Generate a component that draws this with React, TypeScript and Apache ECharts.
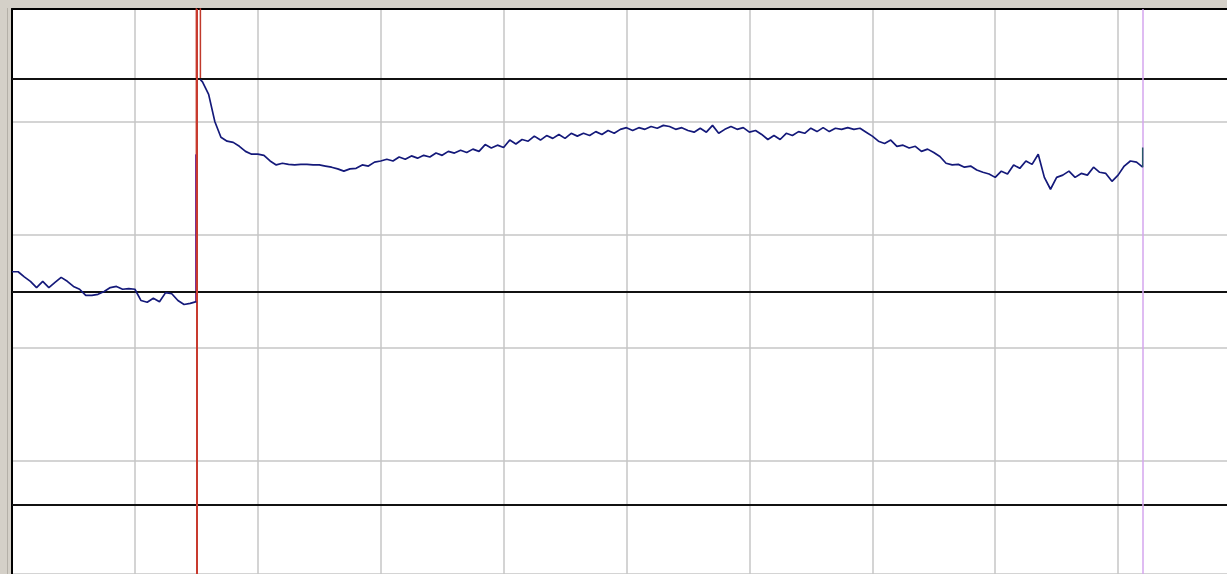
import React, { useEffect, useRef } from "react";
import * as echarts from "echarts";

// time axis: 10 s per division, samples every 0.5 s
const xStep = 0.5;
const preStart = 0;
const postStart = 15.5;
const triggerX = 15;
const spikeFallX = 15.33;
const cursorX = 92;

// levels in % of full scale
const refLevels = [12.3, 50, 87.7];

const preValues = [
  53.5, 53.5, 52.6, 51.8, 50.7, 51.8, 50.7, 51.6, 52.5, 51.8,
  50.9, 50.4, 49.3, 49.3, 49.5, 50.0, 50.7, 50.9, 50.4, 50.5,
  50.4, 48.4, 48.1, 48.8, 48.2, 49.8, 49.6, 48.4, 47.7, 47.9, 48.2,
];

const postValues = [
  87.1, 84.9, 80.1, 77.3, 76.6, 76.4, 75.7, 74.8, 74.3, 74.3,
  74.1, 73.1, 72.4, 72.7, 72.5, 72.4, 72.5, 72.5, 72.4, 72.4,
  72.2, 72.0, 71.7, 71.3, 71.7, 71.8, 72.4, 72.2, 72.9, 73.1,
  73.4, 73.1, 73.8, 73.4, 74.0, 73.6, 74.1, 73.8, 74.5, 74.1,
  74.8, 74.5, 75.0, 74.6, 75.2, 74.8, 76.0, 75.4, 75.9, 75.5,
  76.8, 76.1, 76.9, 76.6, 77.5, 76.8, 77.6, 77.1, 77.8, 77.1,
  78.0, 77.5, 78.0, 77.6, 78.3, 77.8, 78.5, 78.0, 78.7, 79.0,
  78.5, 79.0, 78.7, 79.2, 78.9, 79.4, 79.2, 78.7, 79.0, 78.5,
  78.2, 78.9, 78.2, 79.4, 78.0, 78.7, 79.2, 78.7, 79.0, 78.2,
  78.5, 77.8, 76.9, 77.6, 76.9, 78.0, 77.6, 78.3, 78.0, 78.9,
  78.3, 79.0, 78.3, 78.9, 78.7, 79.0, 78.7, 78.9, 78.2, 77.5,
  76.6, 76.2, 76.8, 75.7, 75.9, 75.4, 75.7, 74.8, 75.2, 74.6,
  73.9, 72.7, 72.4, 72.5, 72.0, 72.2, 71.5, 71.1, 70.8, 70.2,
  71.3, 70.8, 72.4, 71.8, 73.1, 72.5, 74.3, 70.2, 68.1, 70.2,
  70.6, 71.3, 70.2, 70.9, 70.6, 72.0, 71.1, 70.9, 69.5, 70.6,
  72.2, 73.1, 72.9, 72.0,
];

const jumpTop = 74.3;
const spikePeak = 110;
const spikeFloor = 87.5;
const endBump = 75.5;

export default function App() {
  const ref = useRef<HTMLDivElement>(null);
  useEffect(() => {
    if (!ref.current) return;
    const chart = echarts.init(ref.current, undefined, { renderer: "svg" });
    const pre = preValues.map((v, i) => [preStart + i * xStep, v]);
    const post = postValues.map((v, i) => [postStart + i * xStep, v]);
    const lastX = postStart + (postValues.length - 1) * xStep;
    const main = [[spikeFallX, spikeFloor], ...post];
    const lineBase = { type: "line", symbol: "none", animation: false, silent: true };
    chart.setOption({
      animation: false,
      backgroundColor: "#d4d0c8",
      grid: {
        left: 12,
        top: 9,
        width: 1229,
        height: 569,
        show: true,
        backgroundColor: "#ffffff",
        borderWidth: 0,
      },
      graphic: [
        {
          type: "line",
          shape: { x1: 7.5, y1: 8, x2: 7.5, y2: 574 },
          style: { stroke: "#b4b0a8", lineWidth: 1 },
          silent: true,
        },
      ],
      xAxis: {
        type: "value",
        min: 0,
        max: 100,
        interval: 10,
        position: "top",
        axisLine: { show: true, onZero: false, lineStyle: { color: "#000", width: 2 } },
        axisTick: { show: false },
        axisLabel: { show: false },
        splitLine: { show: true, lineStyle: { color: "#c6c6c6", width: 1.5 } },
      },
      yAxis: {
        type: "value",
        min: 0,
        max: 100,
        interval: 20,
        axisLine: { show: true, onZero: false, lineStyle: { color: "#000", width: 2 } },
        axisTick: { show: false },
        axisLabel: { show: false },
        splitLine: { show: true, lineStyle: { color: "#c6c6c6", width: 1.5 } },
      },
      series: [
        {
          ...lineBase,
          z: 1,
          data: [],
          markLine: {
            symbol: "none",
            silent: true,
            label: { show: false },
            animation: false,
            lineStyle: { color: "#111", width: 2, type: "solid" },
            data: refLevels.map((v) => ({ yAxis: v })),
          },
        },
        {
          ...lineBase,
          z: 2,
          data: [],
          markLine: {
            symbol: "none",
            silent: true,
            label: { show: false },
            animation: false,
            data: [
              { xAxis: triggerX, lineStyle: { color: "#c83a2e", width: 2, type: "solid" } },
              { xAxis: cursorX, lineStyle: { color: "#d4a6ee", width: 1.5, type: "solid" } },
            ],
          },
        },
        {
          ...lineBase,
          z: 3,
          data: [
            [triggerX, jumpTop],
            [triggerX, spikePeak],
            [spikeFallX, spikePeak],
            [spikeFallX, spikeFloor],
          ],
          lineStyle: { color: "#c0392b", width: 1.5 },
        },
        {
          ...lineBase,
          z: 4,
          data: [
            [triggerX, preValues[preValues.length - 1]],
            [triggerX, jumpTop],
          ],
          lineStyle: { color: "#6b1d86", width: 2.5 },
        },
        {
          ...lineBase,
          z: 5,
          data: pre,
          lineStyle: { color: "#14197a", width: 1.7 },
        },
        {
          ...lineBase,
          z: 5,
          data: main,
          lineStyle: { color: "#14197a", width: 1.7 },
        },
        {
          ...lineBase,
          z: 5,
          data: [
            [lastX, postValues[postValues.length - 1]],
            [lastX, endBump],
          ],
          lineStyle: { color: "#2a5a6a", width: 1.5 },
        },
      ],
    });
    return () => chart.dispose();
  }, []);
  return (
    <div
      ref={ref}
      style={{ position: "fixed", left: 0, top: 0, width: 1260, height: 574 }}
    />
  );
}
